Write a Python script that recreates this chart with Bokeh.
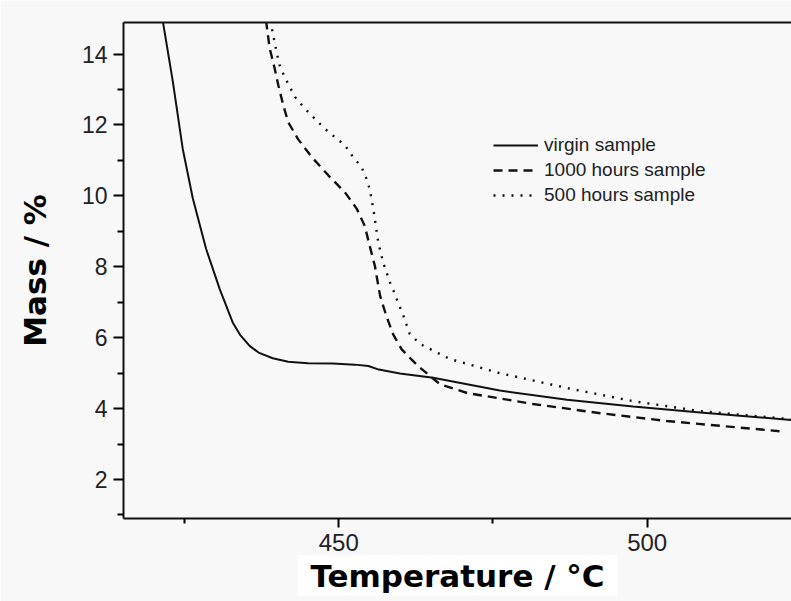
from bokeh.plotting import figure
from bokeh.models import FixedTicker, LinearAxis, Range1d, Legend, LegendItem, Title
from bokeh.embed import file_html
from bokeh.resources import INLINE

# ---- data ----
virgin_T = [421.5, 423.1, 424.7, 426.35, 428.5, 430.7, 432.8, 434.0, 435.55, 437.0, 439.3,
            441.8, 445.0, 449.0, 452.6, 454.8, 456.5, 459.9, 465.3, 476.1, 487.0, 497.7,
            508.6, 523.4]
virgin_V = [14.9, 13.22, 11.33, 9.92, 8.50, 7.37, 6.43, 6.08, 5.77, 5.58, 5.42,
            5.32, 5.28, 5.27, 5.24, 5.20, 5.10, 4.99, 4.87, 4.51, 4.25, 4.06,
            3.89, 3.68]

h1000_T = [438.2, 438.8, 439.6, 440.2, 441.0, 441.8, 443.4, 445.6, 448.3, 451.0, 452.9,
           454.2, 455.0, 455.85, 456.7, 457.7, 458.8, 460.2, 461.7, 463.2, 466.4, 470.8,
           481.5, 492.4, 503.2, 521.6]
h1000_V = [14.95, 14.16, 13.6, 13.12, 12.56, 12.08, 11.6, 11.1, 10.58, 10.1, 9.64,
           9.16, 8.6, 8.03, 7.18, 6.62, 6.1, 5.67, 5.4, 5.15, 4.69, 4.44,
           4.13, 3.87, 3.65, 3.36]

h500_T = [438.9, 439.9, 440.4, 441.2, 442.9, 444.5, 446.1, 447.7, 449.35, 451.0, 452.3,
          453.7, 454.5, 455.0, 455.3, 455.6, 455.85, 456.4, 457.2, 458.3, 459.1, 459.7,
          460.4, 461.5, 463.2, 468.0, 476.1, 487.0, 497.7, 508.6, 523.4]
h500_V = [14.95, 14.07, 13.69, 13.36, 12.79, 12.46, 12.18, 11.9, 11.66, 11.43, 11.1,
          10.81, 10.48, 10.2, 9.92, 9.64, 9.35, 8.69, 8.12, 7.56, 7.23, 6.95,
          6.66, 6.11, 5.82, 5.4, 5.0, 4.58, 4.21, 3.93, 3.7]

series_names = ["virgin sample", "1000 hours sample", "500 hours sample"]
x_ticks = [450, 500]
x_minor = [425, 475]
y_ticks = [2, 4, 6, 8, 10, 12, 14]
y_minor = [1, 3, 5, 7, 9, 11, 13]
x_title = "Temperature / °C"
y_title = "Mass / %"

BG = "#f8f8f8"

p = figure(width=791, height=601, output_backend="svg", toolbar_location=None,
           x_range=Range1d(415.1, 523.4), y_range=Range1d(0.9, 14.89),
           min_border_left=123, min_border_right=0, min_border_top=22,
           min_border_bottom=83)
p.background_fill_color = BG
p.border_fill_color = BG
p.outline_line_color = None
p.xgrid.grid_line_color = None
p.ygrid.grid_line_color = None

r1 = p.line(virgin_T, virgin_V, line_color="#111111", line_width=2)
r2 = p.line(h1000_T, h1000_V, line_color="#111111", line_width=2.4, line_dash="9 6")
r3 = p.line(h500_T, h500_V, line_color="#111111", line_width=2.4, line_dash="2 7")

# x axis
xa = p.xaxis[0]
xa.ticker = FixedTicker(ticks=x_ticks, minor_ticks=x_minor)
xa.axis_line_width = 2
xa.axis_line_color = "#111111"
xa.major_tick_line_width = 2
xa.minor_tick_line_width = 2
xa.major_tick_in = 0
xa.major_tick_out = 9
xa.minor_tick_in = 0
xa.minor_tick_out = 5
xa.major_label_standoff = 6
xa.major_label_text_font = "Liberation Sans"
xa.major_label_text_font_size = "24px"
xa.major_label_text_color = "#222222"

# y axis
ya = p.yaxis[0]
ya.ticker = FixedTicker(ticks=y_ticks, minor_ticks=y_minor)
ya.axis_line_width = 2
ya.axis_line_color = "#111111"
ya.major_tick_line_width = 2
ya.minor_tick_line_width = 2
ya.major_tick_in = 0
ya.major_tick_out = 10
ya.minor_tick_in = 0
ya.minor_tick_out = 6
ya.major_label_standoff = 6
ya.major_label_text_font = "Liberation Sans"
ya.major_label_text_font_size = "23px"
ya.major_label_text_color = "#222222"
ya.axis_label = y_title
ya.axis_label_text_font = "DejaVu Sans"
ya.axis_label_text_font_style = "bold"
ya.axis_label_text_font_size = "31px"
ya.axis_label_text_color = "#000000"
ya.axis_label_standoff = 26

# top border line
top = LinearAxis(ticker=FixedTicker(ticks=[]), major_label_text_font_size="0px",
                 axis_line_width=2, axis_line_color="#111111",
                 major_tick_in=0, major_tick_out=0, minor_tick_in=0, minor_tick_out=0)
p.add_layout(top, "above")

# x title with white box
xt = Title(text=x_title, align="center", text_font="DejaVu Sans",
           text_font_style="bold", text_font_size="31px", text_color="#000000",
           background_fill_color="#ffffff", padding=(13, 2), standoff=0, offset=0)
p.add_layout(xt, "below")

legend = Legend(items=[LegendItem(label=series_names[0], renderers=[r1]),
                       LegendItem(label=series_names[1], renderers=[r2]),
                       LegendItem(label=series_names[2], renderers=[r3])],
                location=(370, 312), glyph_width=45, glyph_height=20,
                label_height=20, spacing=3, label_standoff=6, padding=0, margin=0,
                border_line_color=None, background_fill_alpha=0,
                label_text_font="Liberation Sans", label_text_font_size="19px",
                label_text_color="#222222")
p.add_layout(legend)

open("out.html", "w").write(file_html(p, INLINE))
